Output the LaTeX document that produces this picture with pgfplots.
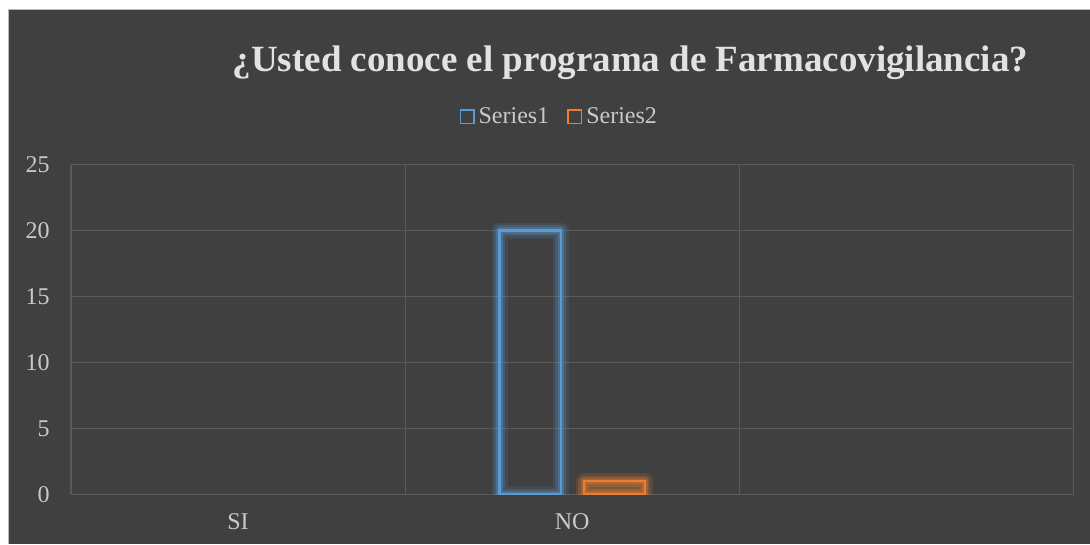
\documentclass[border=0pt]{standalone}
\usepackage{fontspec}
\setmainfont{Liberation Serif}
\usepackage{pgfplots}
\pgfplotsset{compat=1.18}

\definecolor{bg}{HTML}{404040}
\definecolor{gridc}{HTML}{5A5A5A}
\definecolor{gridlo}{HTML}{4D4D4D}
\definecolor{txt}{HTML}{C9C9C9}
\definecolor{titlec}{HTML}{E2E2E2}
\definecolor{s1}{HTML}{5B9BD5}
\definecolor{s2}{HTML}{ED7D31}

% soft halo behind an outlined bar
\pgfplotsset{
  glow/.style 2 args={ybar, forget plot, bar width=0.183, fill=none,
    draw=#1, draw opacity=#2, line join=round},
}

\begin{document}
\begin{tikzpicture}
% page and dark chart area (1 px = 0.5 pt)
\fill[white] (-35.5pt,-24.65pt) rectangle (509.5pt,247.35pt);
\fill[bg] (-31pt,-24.65pt) rectangle (509.5pt,242.35pt);
\draw[gray!55, line width=0.5pt] (-31pt,-24.65pt) -- (-31pt,242.35pt) -- (509.5pt,242.35pt);

\begin{axis}[
  at={(0pt,0pt)}, anchor=south west,
  scale only axis,
  width=501.5pt, height=165pt,
  xmin=-0.5, xmax=2.5,
  ymin=0, ymax=25,
  axis line style={draw=none},
  major tick length=0pt, minor tick length=0pt,
  tick style={draw=none},
  xtick={0,1,2},
  xticklabels={SI,NO,{}},
  minor xtick={-0.5,0.5,1.5,2.5},
  xminorgrids=true,
  minor x grid style={draw=gridc, line width=0.6pt},
  ytick={15,20,25},
  extra y ticks={0,5,10},
  extra y tick style={grid style={draw=gridlo, line width=0.6pt}},
  ymajorgrids=true,
  major grid style={draw=gridc, line width=0.6pt},
  /pgf/number format/assume math mode=true,
  ticklabel style={font=\fontsize{12}{14}\selectfont, text=txt},
  yticklabel style={anchor=east, inner sep=0pt, xshift=-10.5pt},
  xticklabel style={anchor=base, inner sep=0pt, yshift=-17.6pt},
  title={¿Usted conoce el programa de Farmacovigilancia?},
  title style={at={(0.558,1.245)}, anchor=base, inner sep=0pt,
    font=\bfseries\fontsize{18.5}{22}\selectfont, text=titlec},
  legend style={at={(0.488,1.145)}, anchor=center, draw=none, fill=none,
    text=txt, font=\fontsize{12}{14}\selectfont, legend columns=2,
    /tikz/every even column/.append style={column sep=7pt}},
]
% halos, widest first
\addplot[glow={s1}{0.14}, bar shift=-0.126, line width=8pt] coordinates {(1,20)};
\addplot[glow={s1}{0.20}, bar shift=-0.126, line width=5.5pt] coordinates {(1,20)};
\addplot[glow={s1}{0.30}, bar shift=-0.126, line width=3.2pt] coordinates {(1,20)};
\addplot[glow={s2}{0.16}, bar shift=0.126, line width=8pt] coordinates {(1,1)};
\addplot[glow={s2}{0.22}, bar shift=0.126, line width=5.5pt] coordinates {(1,1)};
\addplot[glow={s2}{0.32}, bar shift=0.126, line width=3.2pt] coordinates {(1,1)};
% outlines
\addplot[ybar, bar width=0.183, bar shift=-0.126, draw=s1, line width=1.2pt, fill=none,
  legend image code/.code={\draw[s1, fill=none, line width=0.75pt] (0pt,-3.4pt) rectangle (6.8pt,3.4pt);}]
  coordinates {(1,20)};
\addlegendentry{Series1}
\addplot[ybar, bar width=0.183, bar shift=0.126, draw=s2, line width=1.2pt,
  fill=s2, fill opacity=0.25, draw opacity=1,
  legend image code/.code={\draw[s2, fill=none, line width=0.75pt] (0pt,-3.4pt) rectangle (6.8pt,3.4pt);}]
  coordinates {(1,1)};
\addlegendentry{Series2}
\end{axis}
\end{tikzpicture}
\end{document}
